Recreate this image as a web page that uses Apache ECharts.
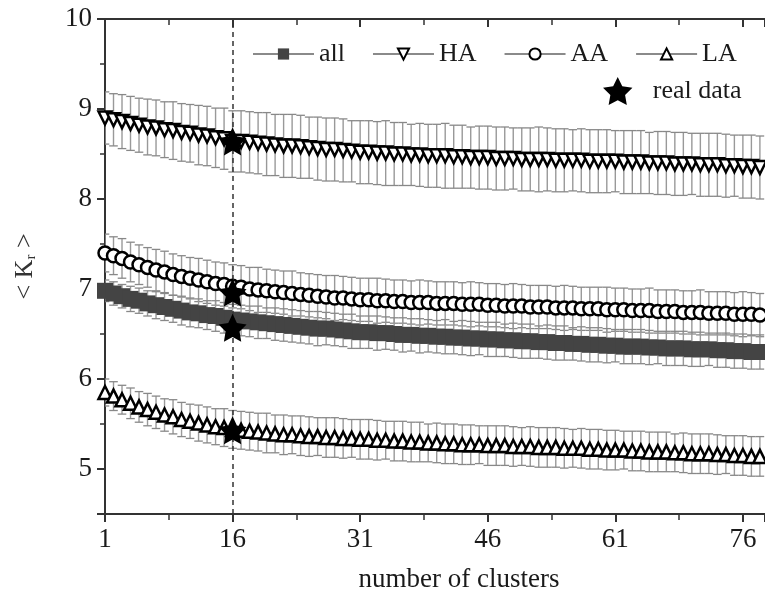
<!DOCTYPE html>
<html>
<head>
<meta charset="utf-8">
<script src="https://cdn.jsdelivr.net/npm/echarts@6/dist/echarts.min.js"></script>
<style>html,body{margin:0;padding:0;background:#fff;}#chart{width:765px;height:598px;}</style>
</head>
<body>
<div id="chart"></div>
<script>
// number of clusters 1..78
const clusters = [1,2,3,4,5,6,7,8,9,10,11,12,13,14,15,16,17,18,19,20,21,22,23,24,25,26,27,28,29,30,31,32,33,34,35,36,37,38,39,40,41,42,43,44,45,46,47,48,49,50,51,52,53,54,55,56,57,58,59,60,61,62,63,64,65,66,67,68,69,70,71,72,73,74,75,76,77,78];
const xTicks = ['1','16','31','46','61','76'];

const haMean = [8.90,8.88,8.86,8.84,8.82,8.80,8.79,8.77,8.76,8.74,8.73,8.71,8.70,8.68,8.67,8.64,
  8.64,8.63,8.62,8.61,8.60,8.59,8.59,8.58,8.57,8.56,8.55,8.55,8.54,8.53,8.52,
  8.52,8.51,8.51,8.50,8.50,8.49,8.49,8.48,8.48,8.48,8.47,8.47,8.46,8.46,8.46,
  8.45,8.45,8.45,8.44,8.44,8.44,8.44,8.43,8.43,8.43,8.43,8.42,8.42,8.42,8.42,
  8.41,8.41,8.41,8.40,8.40,8.40,8.39,8.39,8.39,8.38,8.38,8.38,8.37,8.37,8.36,8.36,8.35];
const haErr = [0.29,0.29,0.30,0.30,0.30,0.31,0.31,0.31,0.32,0.32,0.32,0.33,0.33,0.33,0.34,0.34,
  0.34,0.34,0.34,0.35,0.34,0.35,0.35,0.35,0.34,0.35,0.35,0.35,0.35,0.34,0.35,
  0.35,0.35,0.36,0.35,0.35,0.34,0.35,0.35,0.35,0.36,0.35,0.35,0.34,0.35,0.35,
  0.35,0.35,0.34,0.35,0.35,0.36,0.35,0.35,0.35,0.34,0.35,0.35,0.35,0.35,0.34,
  0.35,0.35,0.35,0.34,0.35,0.35,0.35,0.35,0.34,0.35,0.35,0.35,0.35,0.34,0.35,0.35,0.35];

const aaMean = [7.40,7.37,7.34,7.30,7.27,7.24,7.21,7.19,7.16,7.14,7.12,7.10,7.08,7.06,7.05,7.03,
  7.02,7.00,6.99,6.98,6.97,6.96,6.95,6.94,6.93,6.92,6.91,6.90,6.90,6.89,6.88,
  6.88,6.87,6.87,6.86,6.86,6.85,6.85,6.85,6.84,6.84,6.84,6.83,6.83,6.83,6.82,
  6.82,6.81,6.81,6.81,6.80,6.80,6.80,6.79,6.79,6.79,6.78,6.78,6.78,6.77,6.77,
  6.77,6.76,6.76,6.76,6.75,6.75,6.75,6.74,6.74,6.74,6.73,6.73,6.73,6.72,6.72,6.72,6.71];
const aaErr = [0.21,0.21,0.22,0.22,0.22,0.22,0.23,0.23,0.23,0.23,0.23,0.24,0.24,0.24,0.24,0.24,
  0.24,0.24,0.25,0.24,0.24,0.24,0.25,0.24,0.24,0.24,0.24,0.25,0.24,0.24,0.24,
  0.24,0.25,0.24,0.24,0.24,0.24,0.25,0.24,0.24,0.24,0.24,0.24,0.25,0.24,0.24,
  0.24,0.24,0.25,0.24,0.24,0.24,0.24,0.24,0.25,0.24,0.24,0.24,0.24,0.25,0.24,
  0.24,0.24,0.24,0.25,0.24,0.24,0.24,0.24,0.24,0.25,0.24,0.24,0.24,0.24,0.25,0.24,0.24];

const allMean = [6.98,6.95,6.92,6.89,6.87,6.84,6.82,6.80,6.78,6.76,6.74,6.73,6.71,6.70,6.68,6.66,
  6.65,6.64,6.63,6.62,6.61,6.60,6.59,6.58,6.57,6.56,6.56,6.55,6.54,6.53,6.52,
  6.52,6.51,6.51,6.50,6.49,6.49,6.48,6.48,6.47,6.47,6.46,6.46,6.45,6.45,6.44,
  6.44,6.43,6.43,6.42,6.42,6.41,6.41,6.40,6.40,6.39,6.39,6.38,6.38,6.37,6.37,
  6.36,6.36,6.36,6.35,6.35,6.34,6.34,6.34,6.33,6.33,6.33,6.32,6.32,6.31,6.31,6.30,6.30];
const allErr = [0.12,0.13,0.13,0.14,0.14,0.14,0.15,0.15,0.15,0.16,0.16,0.16,0.16,0.17,0.17,0.17,
  0.17,0.17,0.18,0.17,0.18,0.18,0.18,0.18,0.18,0.19,0.18,0.18,0.18,0.19,0.18,
  0.18,0.19,0.18,0.18,0.19,0.18,0.19,0.18,0.18,0.19,0.18,0.19,0.19,0.18,0.19,
  0.19,0.18,0.19,0.19,0.19,0.18,0.19,0.19,0.19,0.18,0.19,0.19,0.19,0.19,0.18,
  0.19,0.19,0.19,0.19,0.18,0.19,0.19,0.19,0.19,0.19,0.18,0.19,0.19,0.19,0.19,0.19,0.19];

const laMean = [5.85,5.81,5.77,5.73,5.69,5.66,5.63,5.60,5.58,5.55,5.53,5.51,5.49,5.47,5.46,5.44,
  5.43,5.42,5.41,5.40,5.39,5.38,5.38,5.37,5.36,5.36,5.35,5.35,5.34,5.34,5.33,
  5.33,5.32,5.32,5.31,5.31,5.30,5.30,5.29,5.29,5.28,5.28,5.27,5.27,5.27,5.26,
  5.26,5.26,5.25,5.25,5.25,5.24,5.24,5.24,5.23,5.23,5.23,5.22,5.22,5.21,5.21,
  5.21,5.20,5.20,5.19,5.19,5.19,5.18,5.18,5.17,5.17,5.17,5.16,5.16,5.15,5.15,5.14,5.14];
const laErr = [0.15,0.16,0.16,0.17,0.17,0.18,0.18,0.18,0.19,0.19,0.19,0.20,0.20,0.20,0.21,0.21,
  0.21,0.21,0.21,0.22,0.21,0.22,0.21,0.22,0.22,0.21,0.22,0.22,0.22,0.21,0.22,
  0.22,0.22,0.21,0.22,0.22,0.22,0.22,0.21,0.22,0.22,0.22,0.22,0.22,0.21,0.22,
  0.22,0.22,0.22,0.21,0.22,0.22,0.22,0.22,0.22,0.21,0.22,0.22,0.22,0.22,0.22,
  0.21,0.22,0.22,0.22,0.22,0.22,0.21,0.22,0.22,0.22,0.22,0.22,0.21,0.22,0.22,0.22,0.22];

// real data at 16 clusters
const realX = [16, 16, 16, 16];
const realY = [8.64, 6.96, 6.57, 5.43];
const markerX = 16;

const FONT = 'Liberation Serif';
const STAR = 'path://M0,-10 L2.94,-4.05 9.51,-3.09 4.76,1.55 5.88,8.09 0,5 -5.88,8.09 -4.76,1.55 -9.51,-3.09 -2.94,-4.05 Z';

function pairs(mean){ return clusters.map((c,i)=>[c, mean[i]]); }
function errData(mean, err){ return clusters.map((c,i)=>[c, mean[i]-err[i], mean[i]+err[i]]); }

function errRender(params, api){
  const x = api.value(0), lo = api.value(1), hi = api.value(2);
  const p1 = api.coord([x, hi]), p2 = api.coord([x, lo]);
  const w = 4.3;
  const st = {stroke:'#999999', lineWidth:1.4};
  const cs = {stroke:'#888888', lineWidth:1.3};
  return {type:'group', children:[
    {type:'line', shape:{x1:p1[0],y1:p1[1],x2:p2[0],y2:p2[1]}, style:st},
    {type:'line', shape:{x1:p1[0]-w,y1:p1[1],x2:p1[0]+w,y2:p1[1]}, style:cs},
    {type:'line', shape:{x1:p2[0]-w,y1:p2[1],x2:p2[0]+w,y2:p2[1]}, style:cs}
  ]};
}
function errSeries(name, mean, err){
  return {type:'custom', name:name, renderItem:errRender, data:errData(mean, err), z:1, silent:true, clip:true,
          encode:{x:0, y:[1,2]}};
}
function lineSeries(name, mean, symbol, opts){
  return Object.assign({type:'line', name:name, data:pairs(mean), symbol:symbol, symbolSize:13,
    showAllSymbol:true, clip:true, z:3,
    lineStyle:{color:'#8a8a8a', width:1.5},
    itemStyle:{color:'#ffffff', borderColor:'#000', borderWidth:2.5, opacity:1}}, opts||{});
}

const chart = echarts.init(document.getElementById('chart'), null, {renderer:'canvas'});
const axisTxt = {fontFamily:FONT, fontSize:27, color:'#1a1a1a'};
chart.setOption({
  animation:false,
  backgroundColor:'#fff',
  grid:{left:105, top:19, right:0, bottom:83, containLabel:false},
  legend:[
    {data:['all','HA','AA','LA'], left:247, top:36, itemWidth:61, itemHeight:14, itemGap:27,
     textStyle:{fontFamily:FONT, fontSize:26, color:'#1a1a1a'}},
    {data:['real data'], left:598, top:72, itemWidth:60, itemHeight:28,
     textStyle:{fontFamily:FONT, fontSize:26, color:'#1a1a1a'}}
  ],
  xAxis:[
    {type:'value', position:'bottom', min:1, max:78.6, interval:15,
     name:'number of clusters', nameLocation:'middle', nameGap:52,
     nameTextStyle:{fontFamily:FONT, fontSize:27, color:'#1a1a1a', padding:[0,0,0,48]},
     axisLine:{show:true, onZero:false, lineStyle:{color:'#333', width:2}},
     axisTick:{show:true, inside:false, length:8, lineStyle:{color:'#333', width:2}},
     minorTick:{show:true, splitNumber:2, length:6, lineStyle:{color:'#333', width:1.5}},
     axisLabel:Object.assign({margin:12, showMaxLabel:false, formatter:(v)=> xTicks.indexOf(String(v))>=0 ? String(v) : ''}, axisTxt),
     splitLine:{show:false}},
    {type:'value', position:'top', min:1, max:78.6, interval:15,
     axisLine:{show:true, onZero:false, lineStyle:{color:'#333', width:2}},
     axisTick:{show:true, inside:true, length:8, lineStyle:{color:'#333', width:2}},
     minorTick:{show:true, splitNumber:2, length:6, lineStyle:{color:'#333', width:1.5}},
     axisLabel:{show:false}, splitLine:{show:false}}
  ],
  yAxis:[
    {type:'value', min:4.5, max:10, splitNumber:6,
     name:'< K{sub|r} >', nameLocation:'middle', nameGap:66, nameRotate:90,
     nameTextStyle:{fontFamily:FONT, fontSize:26, color:'#333',
       rich:{sub:{fontFamily:FONT, fontSize:15, color:'#333', verticalAlign:'bottom', padding:[12,0,0,0]}}},
     axisLine:{show:true, onZero:false, lineStyle:{color:'#333', width:2}},
     axisTick:{show:true, inside:false, length:8, lineStyle:{color:'#333', width:2}},
     minorTick:{show:true, splitNumber:2, length:5, lineStyle:{color:'#333', width:1.5}},
     axisLabel:Object.assign({margin:13, showMinLabel:false, formatter:(v)=> Number.isInteger(v) ? String(v) : ''}, axisTxt),
     splitLine:{show:false}}
  ],
  series:[
    errSeries('errHA', haMean, haErr),
    errSeries('errAA', aaMean, aaErr),
    errSeries('errAll', allMean, allErr),
    errSeries('errLA', laMean, laErr),
    lineSeries('all', allMean, 'rect', {symbolSize:16, itemStyle:{color:'#444', borderColor:'#444', borderWidth:0, opacity:1}}),
    lineSeries('HA', haMean, 'triangle', {symbolRotate:180}),
    lineSeries('AA', aaMean, 'circle'),
    lineSeries('LA', laMean, 'triangle'),
    {type:'scatter', name:'real data', data:realX.map((x,i)=>[x, realY[i]]), symbol:STAR, symbolSize:28,
     itemStyle:{color:'#000', opacity:1}, z:5,
     markLine:{silent:true, symbol:'none', label:{show:false},
       lineStyle:{color:'#333', width:1.5, type:[5,4]},
       data:[{xAxis:markerX}]}}
  ]
});
</script>
</body>
</html>
